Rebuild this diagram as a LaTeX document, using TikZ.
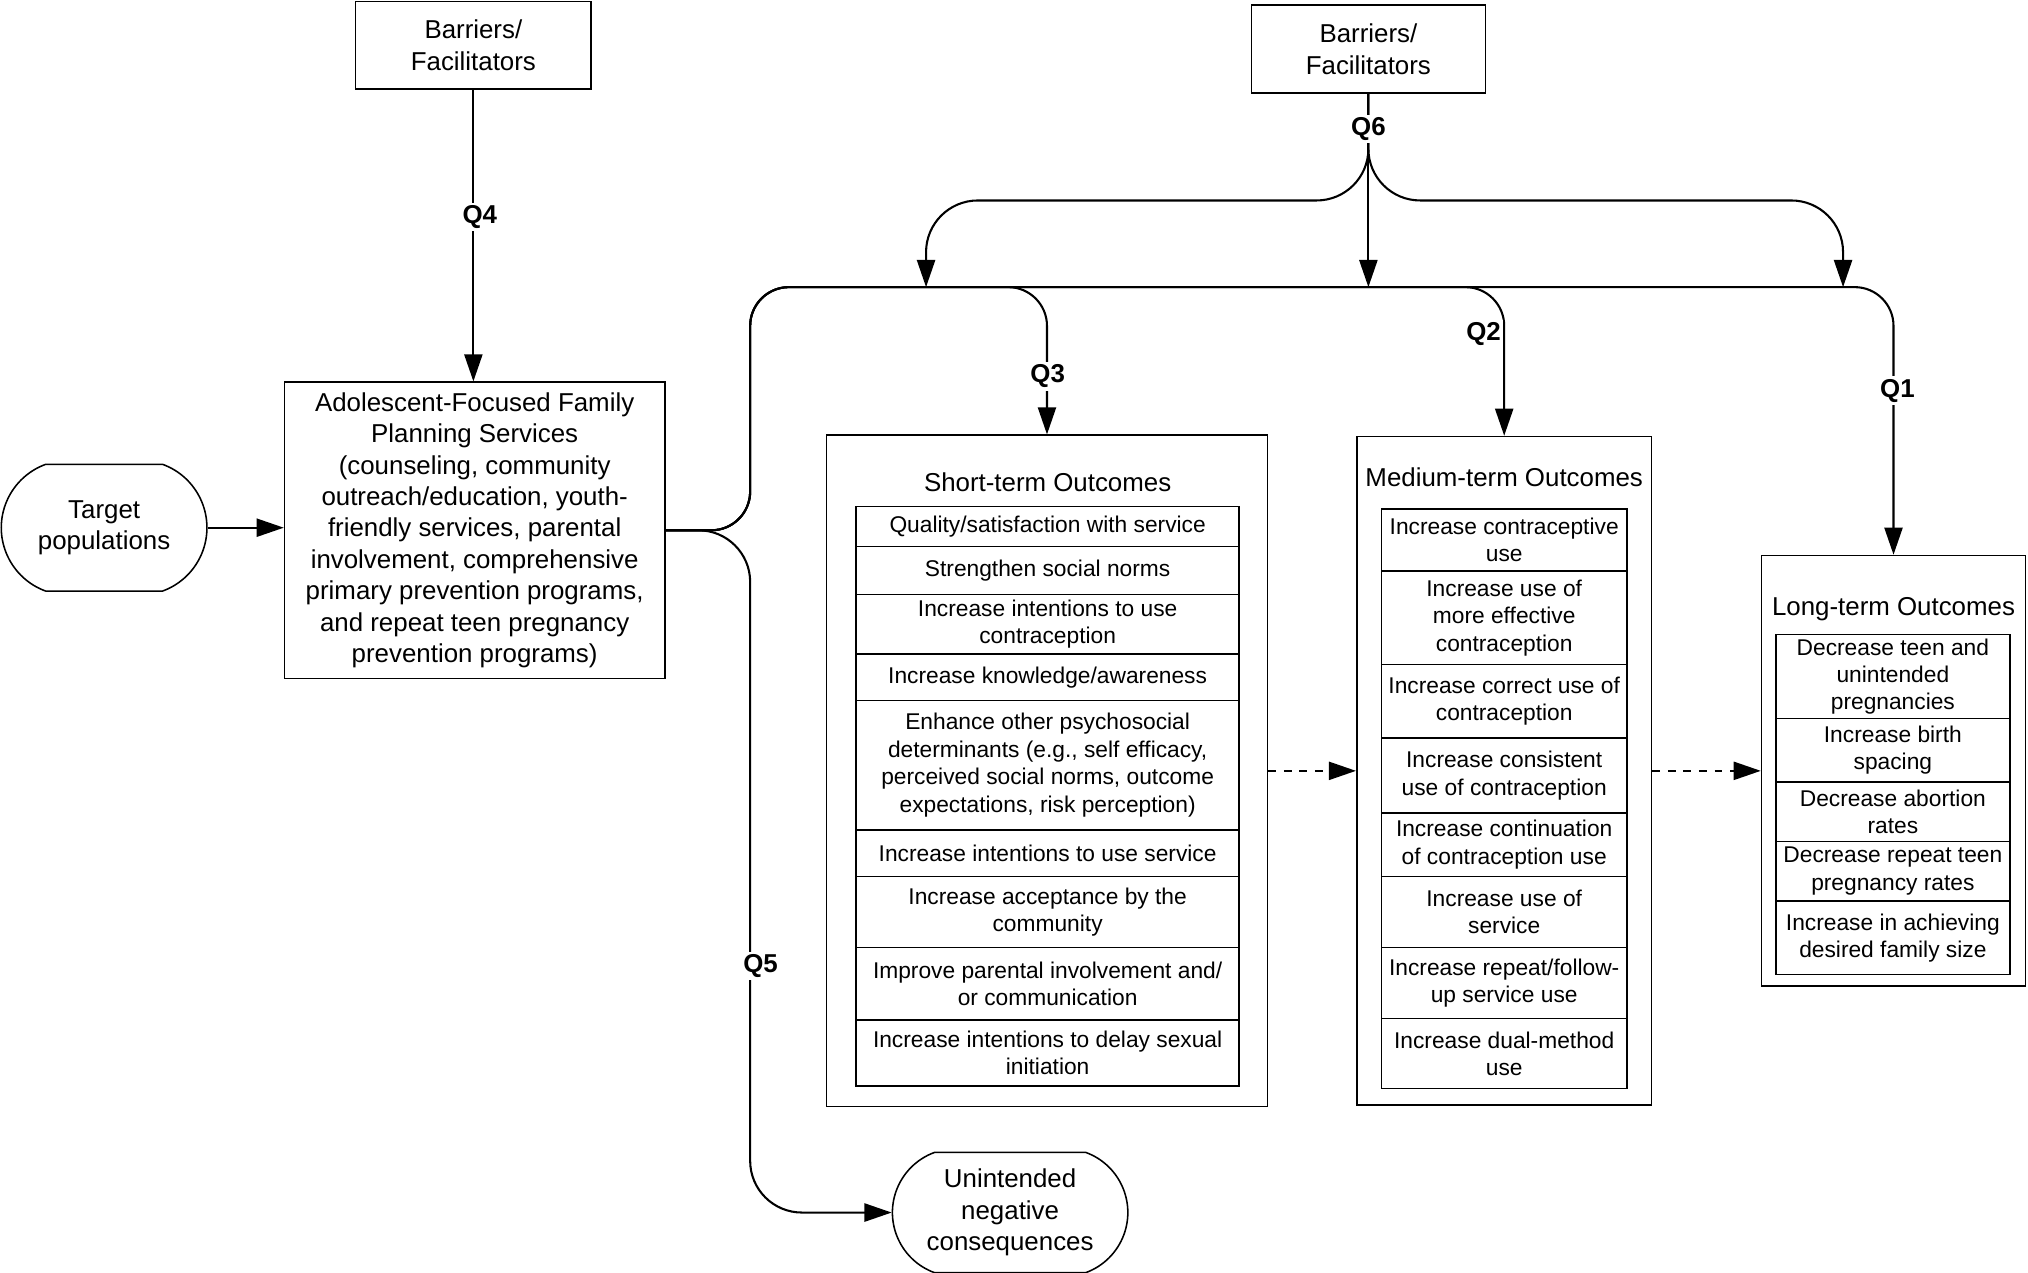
\documentclass[tikz,border=0pt]{standalone}
\usepackage{fontspec}
\setmainfont{Liberation Sans}
\usetikzlibrary{arrows.meta,shapes.misc}

\begin{document}
\begin{tikzpicture}[x=0.5pt,y=-0.5pt,
    box/.style={draw, line width=0.6pt, inner sep=0pt, align=center, font=\fontsize{10}{12.15}\selectfont},
    row/.style={draw, line width=0.6pt, inner sep=0pt, align=center, anchor=north, font=\fontsize{8.8}{10.6}\selectfont},
    head/.style={inner sep=0pt, font=\fontsize{10}{12}\selectfont},
    pill/.style={draw, line width=0.6pt, rounded rectangle, rounded rectangle arc length=140, inner sep=0pt, align=center, font=\fontsize{10}{12.2}\selectfont},
    conn/.style={line width=0.8pt, -{Triangle[length=10.5pt,width=7pt]}},
    link/.style={rounded corners=15pt},
    qlab/.style={fill=white, inner sep=1pt, font=\bfseries\fontsize{10}{12}\selectfont}]

\useasboundingbox (0,0) rectangle (1568,984);

\node[box, minimum width=91pt, minimum height=34pt] (barrierA) at (366,35) {Barriers/\\Facilitators};
\node[box, minimum width=90.5pt, minimum height=34pt] (barrierB) at (1058,38) {Barriers/\\Facilitators};

\node[pill, minimum width=79.5pt, minimum height=49pt] (target) at (80.5,408) {Target\\populations};

\node[box, minimum width=147pt, minimum height=114.5pt] (services) at (367,410)
    {Adolescent-Focused Family\\Planning Services\\(counseling, community\\outreach/education, youth-\\friendly services, parental\\involvement, comprehensive\\primary prevention programs,\\and repeat teen pregnancy\\prevention programs)};

\node[pill, minimum width=91pt, minimum height=46.5pt] (unintended) at (781,937.5) {Unintended\\negative\\consequences};

% outcome boxes
\node[box, minimum width=170.5pt, minimum height=259.5pt] (shortbox) at (809.5,596) {};
\node[box, minimum width=114pt, minimum height=258.5pt] (medbox) at (1163,596) {};
\node[box, minimum width=102pt, minimum height=166.5pt] (longbox) at (1464,596) {};

\node[head] (shorthead) at (810,373) {Short-term Outcomes};
\node[head] (medhead) at (1163,369) {Medium-term Outcomes};
\node[head] (longhead) at (1464,471) {Long-term Outcomes};

\foreach \ya/\yb/\txt [count=\n] in {
    391/422/{Quality/satisfaction with service},
    422/459/{Strengthen social norms},
    459/505/{Increase intentions to use\\contraception},
    505/541/{Increase knowledge/awareness},
    541/641/{Enhance other psychosocial\\determinants (e.g., self efficacy,\\perceived social norms, outcome\\expectations, risk perception)},
    641/677/{Increase intentions to use service},
    677/732/{Increase acceptance by the\\community},
    732/788/{Improve parental involvement and/\\or communication},
    788/839/{Increase intentions to delay sexual\\initiation}}
    \node[row, minimum width=148pt, minimum height={(\yb-\ya)*0.5pt}] (s\n) at (810,\ya) {\txt};

\foreach \ya/\yb/\txt [count=\n] in {
    393/441/{Increase contraceptive\\use},
    441/513/{Increase use of\\more effective\\contraception},
    513/570/{Increase correct use of\\contraception},
    570/628/{Increase consistent\\use of contraception},
    628/677/{Increase continuation\\of contraception use},
    677/732/{Increase use of\\service},
    732/787/{Increase repeat/follow-\\up service use},
    787/841/{Increase dual-method\\use}}
    \node[row, minimum width=95pt, minimum height={(\yb-\ya)*0.5pt}] (m\n) at (1163,\ya) {\txt};

\foreach \ya/\yb/\txt [count=\n] in {
    490/555/{Decrease teen and\\unintended\\pregnancies},
    555/604/{Increase birth\\spacing},
    604/650/{Decrease abortion\\rates},
    650/696/{Decrease repeat teen\\pregnancy rates},
    696/753/{Increase in achieving\\desired family size}}
    \node[row, minimum width=90.5pt, minimum height={(\yb-\ya)*0.5pt}] (l\n) at (1463.5,\ya) {\txt};

\coordinate (fork) at (580,410);
\coordinate (bus) at (580,222);
\coordinate (busL) at (716,222);
\coordinate (busM) at (1058,222);
\coordinate (busR) at (1425,222);

\draw[conn] (target.east) -- (target.east -| services.west);
\draw[conn] (barrierA.south) -- (barrierA.south |- services.north);

% Q6 branches
\draw[conn] (barrierB.south) -- (busM);
\draw[conn, rounded corners=20pt] (barrierB.south) -- (1058,155) -- (716,155) -- (busL);
\draw[conn, rounded corners=20pt] (barrierB.south) -- (1058,155) -- (1425,155) -- (busR);

% from the services box
\draw[conn, link] (services.east) -- (fork) -- (bus) -- (shortbox.north |- bus) -- (shortbox.north);
\draw[conn, link] (services.east) -- (fork) -- (bus) -- (medbox.north |- bus) -- (medbox.north);
\draw[conn, link] (services.east) -- (fork) -- (bus) -- (longbox.north |- bus) -- (longbox.north);
\draw[conn, rounded corners=20pt] (services.east) -- (fork) -- (fork |- unintended) -- (unintended.west);

\draw[conn, dashed] (shortbox.east) -- (medbox.west);
\draw[conn, dashed] (medbox.east) -- (longbox.west);

\node[qlab] (q4) at (371,168) {Q4};
\node[qlab] (q6) at (1058,100) {Q6};
\node[qlab] (q3) at (810,291) {Q3};
\node[qlab] (q2) at (1147,258) {Q2};
\node[qlab] (q1) at (1467,302) {Q1};
\node[qlab] (q5) at (588,747) {Q5};

\end{tikzpicture}
\end{document}
